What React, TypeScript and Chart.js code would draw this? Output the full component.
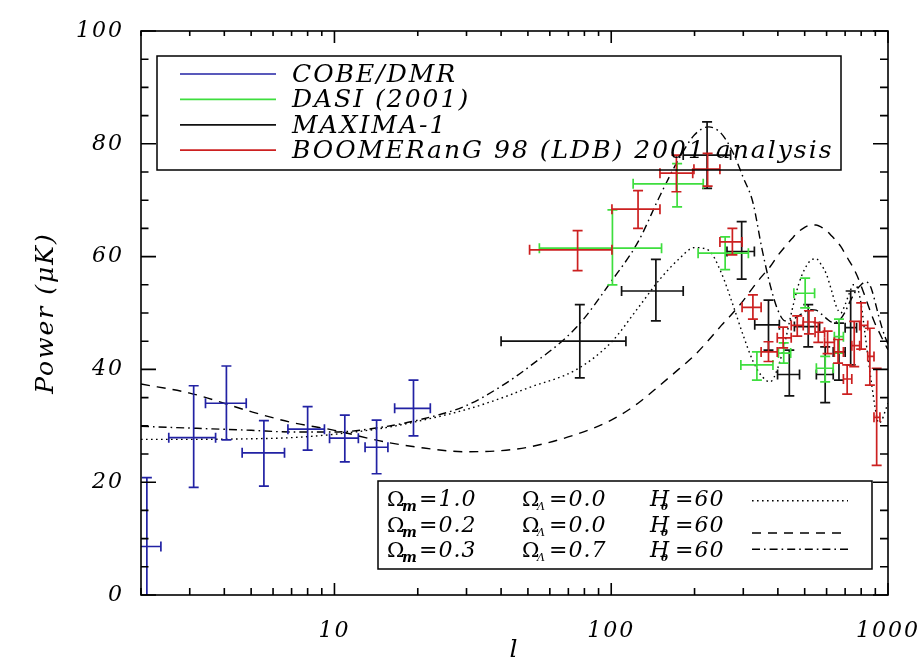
import React, { useEffect, useRef } from 'react';
import { Chart, registerables } from 'chart.js';

Chart.register(...registerables);

const FONT = "'DejaVu Serif', serif";

// ---- theory curves (multipole l, power in microK) ----
const theoryL = [2, 3, 5, 7, 10, 15, 20, 30, 40, 50, 75, 100, 125, 150, 175, 200, 225, 250, 275, 300, 325, 350, 375, 400, 425, 450, 475, 500, 525, 550, 575, 600, 625, 650, 675, 700, 725, 750, 775, 800, 825, 850, 875, 900, 925, 950, 975, 1000];
const omegaM10 = [27.6, 27.6, 27.7, 27.9, 28.5, 29.6, 30.8, 32.9, 34.9, 36.7, 40.0, 44.8, 50.9, 56.0, 59.5, 61.6, 61.1, 57.1, 51.5, 46.0, 41.5, 38.8, 37.8, 40.3, 45.0, 50.5, 55.0, 57.8, 59.3, 59.6, 58.5, 56.8, 54.0, 51.2, 50.0, 51.5, 53.5, 55.0, 54.5, 51.5, 46.5, 41.5, 37.0, 33.0, 30.5, 31.0, 32.5, 34.0];
const omegaM02 = [37.4, 35.8, 32.5, 30.6, 29.2, 27.2, 26.2, 25.4, 25.6, 26.2, 28.5, 31.0, 34.0, 37.2, 40.0, 42.5, 45.2, 47.8, 50.0, 52.2, 54.5, 56.5, 58.2, 60.2, 61.8, 63.2, 64.4, 65.2, 65.6, 65.6, 65.2, 64.6, 63.7, 62.8, 61.8, 60.5, 59.2, 58.0, 56.5, 54.8, 53.0, 51.2, 49.5, 48.0, 46.8, 45.6, 44.5, 43.5];
const omegaM03L07 = [29.9, 29.6, 29.2, 28.9, 28.9, 29.8, 31.0, 33.6, 37.0, 40.3, 47.5, 55.6, 62.6, 70.8, 77.2, 81.6, 83.0, 81.8, 78.5, 74.0, 69.6, 61.5, 55.0, 50.5, 48.6, 48.8, 49.5, 50.2, 50.6, 50.5, 49.8, 49.0, 48.4, 48.4, 49.0, 50.2, 51.8, 53.2, 54.3, 55.0, 55.5, 55.3, 54.0, 51.8, 49.5, 47.5, 45.8, 44.5];

// ---- measurements: [l, lLow, lHigh, power, powerLow, powerHigh] ----
const cobeDmr = [
  [2.1, 1.9, 2.36, 8.6, -5, 20.8],
  [3.1, 2.52, 3.72, 27.9, 19.1, 37.1],
  [4.07, 3.42, 4.8, 34.0, 27.5, 40.6],
  [5.56, 4.64, 6.6, 25.2, 19.3, 30.9],
  [8.0, 6.79, 9.2, 29.4, 25.7, 33.4],
  [10.9, 9.6, 12.2, 27.8, 23.6, 31.9],
  [14.2, 12.9, 15.6, 26.2, 21.5, 31.0],
  [19.3, 16.5, 22.2, 33.1, 28.2, 38.1],
];
const dasi2001 = [
  [101, 55, 152, 61.5, 55.0, 68.3],
  [173, 120, 215, 72.9, 68.8, 76.5],
  [258, 206, 313, 60.6, 57.7, 63.5],
  [336, 294, 384, 40.8, 38.1, 43.1],
  [420, 402, 445, 42.9, 41.1, 44.7],
  [502, 457, 543, 53.5, 50.9, 56.2],
  [593, 551, 634, 40.2, 37.8, 42.3],
  [665, 640, 690, 45.8, 42.9, 48.9],
];
const maxima1 = [
  [77, 40, 113, 45.0, 38.5, 51.5],
  [145, 109, 182, 53.9, 48.6, 59.5],
  [222, 182, 270, 78.0, 72.1, 83.9],
  [296, 262, 329, 60.9, 56.0, 66.2],
  [370, 330, 405, 47.9, 43.4, 52.3],
  [440, 399, 479, 39.1, 35.3, 43.4],
  [515, 459, 566, 47.6, 44.0, 51.5],
  [593, 551, 634, 39.1, 34.1, 44.0],
  [665, 634, 700, 43.1, 38.1, 48.2],
  [733, 700, 770, 47.4, 40.8, 53.9],
];
const boomerang98 = [
  [75.6, 50.7, 100.6, 61.2, 57.5, 64.6],
  [125, 100.6, 150, 68.4, 65.0, 71.7],
  [172, 150, 197, 74.8, 71.5, 78.0],
  [223, 199, 247, 75.5, 72.5, 78.3],
  [274, 247, 297, 62.6, 60.3, 65.0],
  [325, 297, 348, 51.0, 48.9, 53.2],
  [370, 348, 398, 43.1, 41.4, 44.9],
  [418, 398, 447, 45.6, 43.8, 47.5],
  [470, 447, 494, 47.8, 45.9, 49.5],
  [518, 494, 545, 48.4, 46.3, 50.4],
  [560, 545, 590, 46.6, 44.8, 48.3],
  [605, 590, 640, 44.8, 42.8, 46.8],
  [660, 640, 690, 43.1, 41.1, 45.3],
  [712, 690, 740, 38.3, 35.6, 40.8],
  [755, 740, 790, 44.2, 40.5, 48.5],
  [800, 790, 845, 47.8, 43.6, 51.8],
  [860, 845, 890, 42.3, 37.2, 47.3],
  [910, 890, 935, 31.5, 23.0, 40.2],
];

const seriesLabels = ['COBE/DMR', 'DASI (2001)', 'MAXIMA-1', 'BOOMERanG 98 (LDB) 2001 analysis'];
const seriesColors = ['#2222a4', '#3ede3e', '#111111', '#cc2020'];

const modelOmegaM = ['1.0', '0.2', '0.3'];
const modelOmegaL = ['0.0', '0.0', '0.7'];
const modelH0 = ['60', '60', '60'];

const yTickValues = [0, 20, 40, 60, 80, 100];
const xTickValues = [10, 100, 1000];

// styles
const DOTTED = [1.6, 3.4];
const DASHED = [9, 7];
const DASHDOT = [8, 4, 1.6, 4];

const bgPlugin = {
  id: 'bg',
  beforeDraw(chart: any) {
    const ctx = chart.ctx;
    ctx.save();
    ctx.fillStyle = '#ffffff';
    ctx.fillRect(0, 0, chart.width, chart.height);
    ctx.restore();
    ctx.letterSpacing = '2px';
  },
};

const errorBarPlugin = {
  id: 'errorBars',
  afterDatasetsDraw(chart: any) {
    const { ctx, chartArea: a, scales } = chart;
    const xs = scales.x;
    const ys = scales.y;
    ctx.save();
    ctx.beginPath();
    ctx.rect(a.left, a.top, a.right - a.left, a.bottom - a.top);
    ctx.clip();
    const cap = 5;
    chart.data.datasets.forEach((ds: any) => {
      if (!ds.errorBars) return;
      ctx.strokeStyle = ds.borderColor;
      ctx.lineWidth = 1.7;
      ctx.lineCap = 'butt';
      ds.data.forEach((p: any) => {
        const px = xs.getPixelForValue(p.x);
        const py = ys.getPixelForValue(p.y);
        const xl = xs.getPixelForValue(p.xMin);
        const xh = xs.getPixelForValue(p.xMax);
        const yl = ys.getPixelForValue(p.yMin);
        const yh = ys.getPixelForValue(p.yMax);
        ctx.beginPath();
        ctx.moveTo(xl, py); ctx.lineTo(xh, py);
        ctx.moveTo(px, yl); ctx.lineTo(px, yh);
        ctx.moveTo(xl, py - cap); ctx.lineTo(xl, py + cap);
        ctx.moveTo(xh, py - cap); ctx.lineTo(xh, py + cap);
        ctx.moveTo(px - cap, yl); ctx.lineTo(px + cap, yl);
        ctx.moveTo(px - cap, yh); ctx.lineTo(px + cap, yh);
        ctx.stroke();
      });
    });
    ctx.restore();
  },
};

const framePlugin = {
  id: 'frame',
  afterDraw(chart: any) {
    const { ctx, chartArea: a, scales } = chart;
    const xs = scales.x;
    const ys = scales.y;
    ctx.save();
    ctx.strokeStyle = '#000';
    ctx.lineWidth = 1.6;
    ctx.strokeRect(a.left, a.top, a.right - a.left, a.bottom - a.top);
    ctx.beginPath();
    for (let v = ys.min; v <= ys.max; v += 5) {
      const py = ys.getPixelForValue(v);
      const major = v % 20 === 0;
      ctx.moveTo(a.left, py); ctx.lineTo(a.left + (major ? 15 : 7.5), py);
      ctx.moveTo(a.right, py); ctx.lineTo(a.right - (major ? 15 : 8), py);
    }
    for (let d = 1; d <= 1000; d *= 10) {
      for (let k = 1; k <= 9; k++) {
        const v = k * d;
        if (v < xs.min || v > xs.max) continue;
        const px = xs.getPixelForValue(v);
        const major = k === 1;
        ctx.moveTo(px, a.bottom); ctx.lineTo(px, a.bottom - (major ? 12 : 7));
        ctx.moveTo(px, a.top); ctx.lineTo(px, a.top + (major ? 12 : 5));
      }
    }
    ctx.stroke();
    ctx.restore();
  },
};

const legendPlugin = {
  id: 'boxLegends',
  afterDraw(chart: any) {
    const ctx = chart.ctx;
    ctx.save();
    ctx.letterSpacing = '2px';
    // data legend
    ctx.strokeStyle = '#000';
    ctx.lineWidth = 1.5;
    ctx.strokeRect(157, 56, 684, 114);
    seriesLabels.forEach((label, i) => {
      const yy = 74 + i * 25.4;
      ctx.strokeStyle = seriesColors[i];
      ctx.lineWidth = 1.7;
      ctx.beginPath();
      ctx.moveTo(180, yy); ctx.lineTo(276, yy);
      ctx.stroke();
      ctx.fillStyle = '#000';
      ctx.font = `italic 25px ${FONT}`;
      ctx.textBaseline = 'alphabetic';
      ctx.textAlign = 'left';
      ctx.fillText(label, 292, yy + 8);
    });
    // model legend
    ctx.strokeStyle = '#000';
    ctx.lineWidth = 1.5;
    ctx.strokeRect(378, 481, 494, 88);
    const baselines = [506, 531.5, 557];
    const lineYs = [500.7, 533, 549.3];
    const dashes = [DOTTED, DASHED, DASHDOT];
    ctx.letterSpacing = '1px';
    for (let i = 0; i < 3; i++) {
      const b = baselines[i];
      ctx.fillStyle = '#000';
      ctx.font = `21px ${FONT}`;
      ctx.fillText('Ω', 387, b);
      ctx.font = `italic bold 14px ${FONT}`;
      ctx.fillText('m', 402, b + 5);
      ctx.font = `italic 22px ${FONT}`;
      ctx.fillText('=' + modelOmegaM[i], 419, b);
      ctx.font = `21px ${FONT}`;
      ctx.fillText('Ω', 522, b);
      ctx.font = `italic 11px ${FONT}`;
      ctx.fillText('Λ', 537, b + 4);
      ctx.font = `italic 22px ${FONT}`;
      ctx.fillText('=' + modelOmegaL[i], 549, b);
      ctx.font = `italic 22px ${FONT}`;
      ctx.fillText('H', 650, b);
      ctx.font = `italic bold 10px ${FONT}`;
      ctx.fillText('0', 661, b + 4);
      ctx.font = `italic 22px ${FONT}`;
      ctx.fillText('=' + modelH0[i], 675, b);
      ctx.strokeStyle = '#000';
      ctx.lineWidth = 1.4;
      ctx.setLineDash(dashes[i]);
      ctx.beginPath();
      ctx.moveTo(752, lineYs[i]); ctx.lineTo(848, lineYs[i]);
      ctx.stroke();
      ctx.setLineDash([]);
    }
    ctx.restore();
  },
};

function toPoints(rows: number[][]) {
  return rows.map(([l, lLo, lHi, p, pLo, pHi]) => ({ x: l, y: p, xMin: lLo, xMax: lHi, yMin: pLo, yMax: pHi }));
}
function toCurve(vals: number[]) {
  return theoryL.map((l, i) => ({ x: l, y: vals[i] }));
}

export default function App() {
  const ref = useRef<HTMLCanvasElement>(null);
  useEffect(() => {
    const canvas = ref.current;
    if (!canvas) return;
    const curveBase = {
      type: 'line' as const,
      borderColor: '#000',
      borderWidth: 1.4,
      pointRadius: 0,
      fill: false,
      showLine: true,
      cubicInterpolationMode: 'monotone' as const,
    };
    const barBase = { pointRadius: 0, showLine: false, errorBars: true };
    const chart = new Chart(canvas, {
      type: 'scatter',
      data: {
        datasets: [
          { ...curveBase, label: 'Ωm=1.0 ΩΛ=0.0 H0=60', data: toCurve(omegaM10), borderDash: DOTTED },
          { ...curveBase, label: 'Ωm=0.2 ΩΛ=0.0 H0=60', data: toCurve(omegaM02), borderDash: DASHED },
          { ...curveBase, label: 'Ωm=0.3 ΩΛ=0.7 H0=60', data: toCurve(omegaM03L07), borderDash: DASHDOT },
          { ...barBase, label: seriesLabels[2], data: toPoints(maxima1), borderColor: seriesColors[2] },
          { ...barBase, label: seriesLabels[1], data: toPoints(dasi2001), borderColor: seriesColors[1] },
          { ...barBase, label: seriesLabels[3], data: toPoints(boomerang98), borderColor: seriesColors[3] },
          { ...barBase, label: seriesLabels[0], data: toPoints(cobeDmr), borderColor: seriesColors[0] },
        ] as any,
      },
      options: {
        animation: false,
        responsive: false,
        maintainAspectRatio: false,
        layout: { padding: { top: 31, right: 34, left: 0, bottom: 0 } },
        plugins: { legend: { display: false }, tooltip: { enabled: false } },
        scales: {
          x: {
            type: 'logarithmic',
            position: 'bottom',
            min: 2,
            max: 1000,
            grid: { display: false },
            border: { display: false },
            ticks: {
              font: { family: FONT, style: 'italic', size: 22 },
              color: '#000',
              padding: 15,
              maxRotation: 0,
              autoSkip: false,
              callback: (v: any) => String(v),
            },
            afterBuildTicks: (s: any) => { s.ticks = xTickValues.map((v) => ({ value: v })); },
            afterFit: (s: any) => { s.height = 72; s.paddingLeft = 0; s.paddingRight = 0; },
            title: { display: true, text: 'l', color: '#000', font: { family: FONT, style: 'italic', size: 25 }, padding: { top: 0, bottom: 2 } },
          },
          y: {
            min: 0,
            max: 100,
            grid: { display: false },
            border: { display: false },
            ticks: {
              font: { family: FONT, style: 'italic', size: 22 },
              color: '#000',
              padding: 9,
              stepSize: 20,
            },
            afterBuildTicks: (s: any) => { s.ticks = yTickValues.map((v) => ({ value: v })); },
            afterFit: (s: any) => { s.width = 141; s.paddingTop = 0; s.paddingBottom = 0; },
            title: { display: true, text: 'Power (μK)', color: '#000', font: { family: FONT, style: 'italic', size: 25 }, padding: { top: 31, bottom: 0 } },
          },
        },
      } as any,
      plugins: [bgPlugin, errorBarPlugin, framePlugin, legendPlugin],
    });
    return () => chart.destroy();
  }, []);
  return (
    <div style={{ position: 'fixed', left: 0, top: 0, width: 922, height: 667, background: '#fff' }}>
      <canvas ref={ref} width={922} height={667} style={{ display: 'block', width: 922, height: 667 }} />
    </div>
  );
}
